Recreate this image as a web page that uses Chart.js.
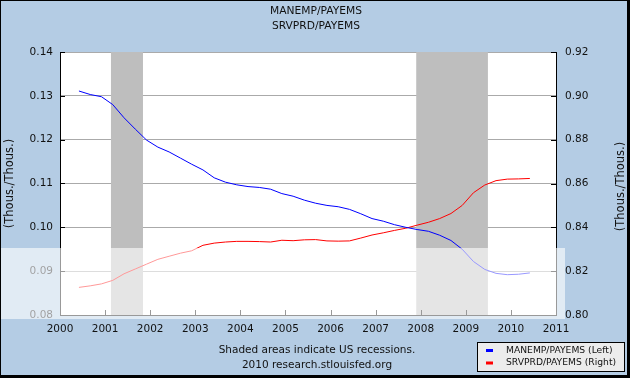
<!DOCTYPE html>
<html>
<head>
<meta charset="utf-8">
<script src="https://cdn.jsdelivr.net/npm/chart.js@4"></script>
<style>
html,body{margin:0;padding:0;background:#b4cce4;}
canvas{display:block;}
</style>
</head>
<body>
<canvas id="c" width="630" height="378"></canvas>
<script>
// ---- data ----
const dates = [2000.42,2000.67,2000.92,2001.17,2001.42,2001.67,2001.92,2002.17,2002.42,2002.67,2002.92,
  2003.17,2003.42,2003.67,2003.92,2004.17,2004.42,2004.67,2004.92,2005.17,2005.42,2005.67,2005.92,
  2006.17,2006.42,2006.67,2006.92,2007.17,2007.42,2007.67,2007.92,2008.17,2008.42,2008.67,2008.92,
  2009.17,2009.42,2009.67,2009.92,2010.17,2010.42];
const manemp = [0.1311,0.1303,0.1298,0.1280,0.1250,0.1224,0.1199,0.1183,0.1172,0.1158,0.1144,
  0.1131,0.1113,0.1103,0.1097,0.1093,0.1091,0.1087,0.1077,0.1071,0.1062,0.1055,0.1050,
  0.1047,0.1041,0.1031,0.1020,0.1014,0.1006,0.1000,0.0995,0.0991,0.0982,0.0970,0.0950,
  0.0922,0.0904,0.0895,0.0892,0.0893,0.0896];
const srvprd = [0.8126,0.8133,0.8142,0.8158,0.8188,0.8210,0.8232,0.8254,0.8268,0.8282,0.8293,
  0.8318,0.8328,0.8333,0.8336,0.8336,0.8335,0.8333,0.8341,0.8339,0.8343,0.8344,0.8338,
  0.8337,0.8338,0.8351,0.8365,0.8375,0.8386,0.8396,0.8410,0.8423,0.8440,0.8463,0.8500,
  0.8558,0.8593,0.8613,0.8620,0.8621,0.8623];
const recessions = [[2001.13, 2001.84], [2007.9, 2009.49]];
const titleLines = ["MANEMP/PAYEMS", "SRVPRD/PAYEMS"];
const footerLines = ["Shaded areas indicate US recessions.", "2010 research.stlouisfed.org"];
const legendLabels = ["MANEMP/PAYEMS (Left)", "SRVPRD/PAYEMS (Right)"];
const axisTitle = "(Thous./Thous.)";

const FONT = "'DejaVu Sans', Verdana, sans-serif";
const BG = "#b4cce4";

const decor = {
  id: 'decor',
  beforeDraw(chart) {
    const ctx = chart.ctx, a = chart.chartArea;
    ctx.save();
    ctx.fillStyle = BG;
    ctx.fillRect(0, 0, chart.width, chart.height);
    ctx.fillStyle = '#ffffff';
    ctx.fillRect(a.left, a.top, a.right - a.left, a.bottom - a.top);
    ctx.restore();
  },
  beforeDatasetsDraw(chart) {
    const ctx = chart.ctx, a = chart.chartArea, x = chart.scales.x;
    ctx.save();
    ctx.fillStyle = '#bebebe';
    recessions.forEach(r => {
      const x0 = x.getPixelForValue(r[0]), x1 = x.getPixelForValue(r[1]);
      ctx.fillRect(x0, a.top, x1 - x0, a.bottom - a.top);
    });
    ctx.restore();
  },
  afterDraw(chart) {
    const ctx = chart.ctx, a = chart.chartArea;
    const yl = chart.scales.y, yr = chart.scales.y1, x = chart.scales.x;
    ctx.save();
    // axis lines
    ctx.strokeStyle = '#000';
    ctx.lineWidth = 1;
    ctx.beginPath();
    ctx.moveTo(a.left + 0.5, a.top); ctx.lineTo(a.left + 0.5, a.bottom + 0.5);
    ctx.lineTo(a.right + 0.5, a.bottom + 0.5); ctx.lineTo(a.right + 0.5, a.top);
    ctx.stroke();
    // inside tick marks
    ctx.beginPath();
    yl.ticks.forEach(t => {
      const y = Math.round(yl.getPixelForValue(t.value)) + 0.5;
      ctx.moveTo(a.left, y); ctx.lineTo(a.left + 5, y);
    });
    yr.ticks.forEach(t => {
      const y = Math.round(yr.getPixelForValue(t.value)) + 0.5;
      ctx.moveTo(a.right - 5, y); ctx.lineTo(a.right + 1, y);
    });
    x.ticks.forEach(t => {
      const px = Math.round(x.getPixelForValue(t.value)) + 0.5;
      ctx.moveTo(px, a.bottom); ctx.lineTo(px, a.bottom - 5);
    });
    ctx.stroke();
    // light band overlay (as in the picture)
    ctx.fillStyle = 'rgba(255,255,255,0.6)';
    ctx.fillRect(0, 248, 565, 71);
    // titles
    ctx.fillStyle = '#111';
    ctx.textAlign = 'center';
    ctx.textBaseline = 'middle';
    ctx.font = "10.7px " + FONT;
    ctx.fillText(titleLines[0], 316, 11);
    ctx.fillText(titleLines[1], 316, 26);
    // footer
    ctx.font = "10.5px " + FONT;
    ctx.fillText(footerLines[0], 317, 350);
    ctx.fillText(footerLines[1], 317, 365);
    // axis titles
    ctx.font = "11.5px " + FONT;
    const cy = (a.top + a.bottom) / 2;
    ctx.save(); ctx.translate(10, cy); ctx.rotate(-Math.PI / 2); ctx.fillText(axisTitle, 0, 0); ctx.restore();
    ctx.save(); ctx.translate(621, cy + 3); ctx.rotate(-Math.PI / 2); ctx.fillText(axisTitle, 0, 0); ctx.restore();
    // legend box
    ctx.fillStyle = '#ececec';
    ctx.fillRect(477.5, 342.5, 147, 29);
    ctx.strokeStyle = '#000';
    ctx.strokeRect(477.5, 342.5, 147, 29);
    const cols = ['#0000ff', '#ff0000'];
    const ly = [350, 362.5];
    ctx.font = "9.2px " + FONT;
    ctx.textAlign = 'left';
    for (let i = 0; i < 2; i++) {
      ctx.fillStyle = cols[i];
      ctx.fillRect(486, ly[i] - 1, 7, 3);
      ctx.fillStyle = '#111';
      ctx.fillText(legendLabels[i], 506, ly[i] + 0.5);
    }
    // outer frame
    ctx.fillStyle = '#000';
    ctx.fillRect(0, 0, chart.width, 1);
    ctx.fillRect(0, 0, 1, chart.height);
    ctx.fillRect(chart.width - 3, 0, 3, chart.height);
    ctx.fillRect(0, chart.height - 3, chart.width, 3);
    ctx.restore();
  }
};

new Chart(document.getElementById('c'), {
  type: 'line',
  data: {
    datasets: [
      { label: legendLabels[0], data: dates.map((d, i) => ({ x: d, y: manemp[i] })),
        borderColor: '#0000ff', borderWidth: 1, pointRadius: 0, tension: 0, yAxisID: 'y' },
      { label: legendLabels[1], data: dates.map((d, i) => ({ x: d, y: srvprd[i] })),
        borderColor: '#ff0000', borderWidth: 1, pointRadius: 0, tension: 0, yAxisID: 'y1' }
    ]
  },
  options: {
    responsive: false,
    devicePixelRatio: 1,
    animation: false,
    layout: { padding: { top: 52, left: 0, right: 0, bottom: 0 } },
    plugins: { legend: { display: false }, tooltip: { enabled: false }, title: { display: false } },
    scales: {
      x: {
        type: 'linear', min: 2000, max: 2011,
        ticks: { stepSize: 1, padding: 8, color: '#111', font: { family: FONT, size: 10.5 },
          callback: v => String(Math.round(v)), maxRotation: 0, autoSkip: false },
        grid: { display: false, drawTicks: false },
        border: { display: false },
        afterFit: s => { s.height = 63; }
      },
      y: {
        position: 'left', min: 0.08, max: 0.14,
        ticks: { stepSize: 0.01, padding: 7, color: '#111', font: { family: FONT, size: 10.5 },
          callback: v => v.toFixed(2) },
        grid: { color: '#aaaaaa', drawTicks: false },
        border: { display: false },
        afterFit: s => { s.width = 60; }
      },
      y1: {
        position: 'right', min: 0.80, max: 0.92,
        ticks: { stepSize: 0.02, padding: 9, color: '#111', font: { family: FONT, size: 10.5 },
          callback: v => v.toFixed(2) },
        grid: { display: false, drawTicks: false },
        border: { display: false },
        afterFit: s => { s.width = 74; }
      }
    }
  },
  plugins: [decor]
});
</script>
</body>
</html>
